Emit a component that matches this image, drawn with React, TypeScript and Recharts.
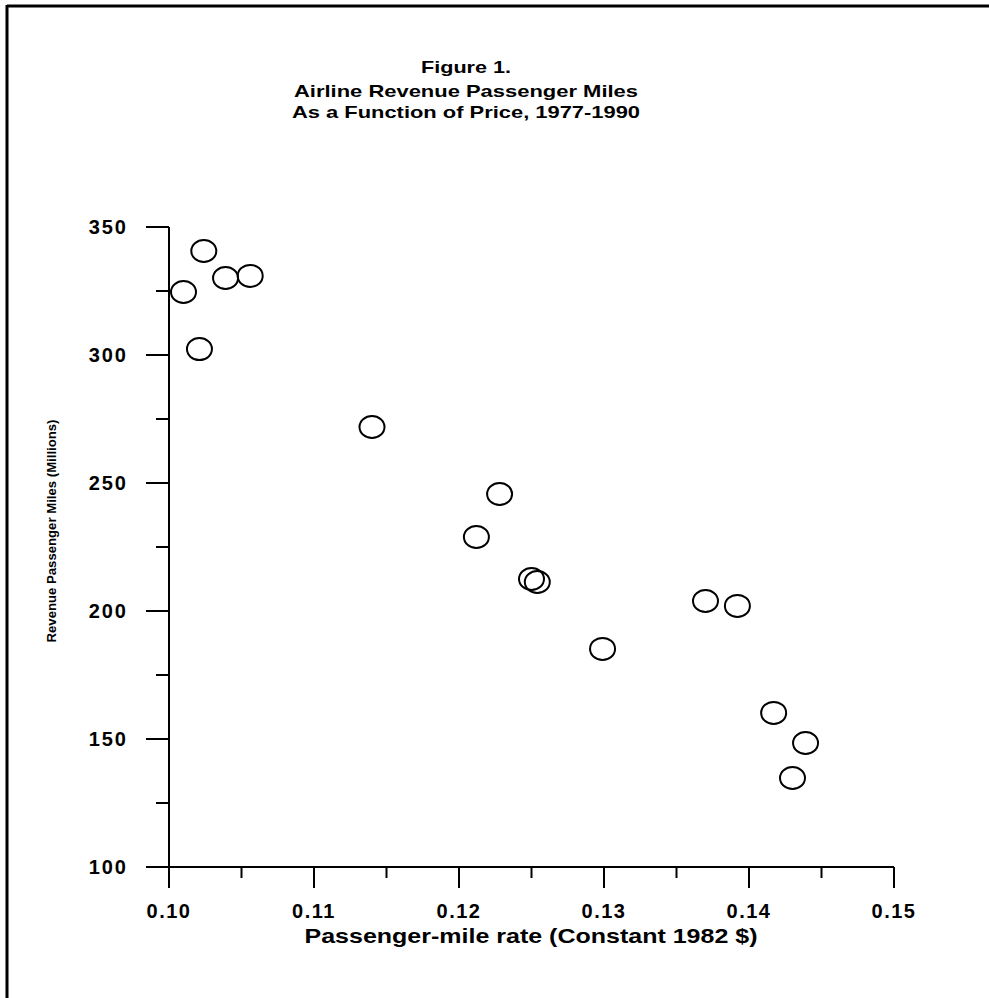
import React from 'react';
import { ScatterChart, Scatter, XAxis, YAxis } from 'recharts';

// price (constant 1982 $ per passenger-mile) and revenue passenger miles (millions)
const rates = [0.1024, 0.101, 0.1039, 0.1056, 0.1021, 0.114, 0.1228, 0.1212, 0.125, 0.1254, 0.1299, 0.137, 0.1392, 0.1417, 0.1439, 0.143];
const miles = [340.6, 324.6, 330.1, 330.9, 302.3, 271.9, 245.7, 228.9, 212.5, 211.3, 185.2, 203.9, 202.0, 160.2, 148.4, 134.8];

const xTicks = [0.1, 0.105, 0.11, 0.115, 0.12, 0.125, 0.13, 0.135, 0.14, 0.145, 0.15];
const xTickLabels = ['0.10', '0.11', '0.12', '0.13', '0.14', '0.15'];
const yTicks = [100, 125, 150, 175, 200, 225, 250, 275, 300, 325, 350];
const yTickLabels = ['100', '150', '200', '250', '300', '350'];

const titleLines = ['Figure 1.', 'Airline Revenue Passenger Miles', 'As a Function of Price, 1977-1990'];
const xTitle = 'Passenger-mile rate (Constant 1982 $)';
const yTitle = 'Revenue Passenger Miles (Millions)';

const data = rates.map((x, i) => ({ x, y: miles[i] }));

const FONT = '"Liberation Sans", Arial, Helvetica, sans-serif';

function XTick(props: any) {
  const { x, y, index } = props;
  const major = index % 2 === 0;
  return (
    <g>
      <line x1={x} x2={x} y1={y} y2={y + (major ? 21 : 11)} stroke="#000" strokeWidth={2} />
      {major && (
        <text x={x} y={y + 51} textAnchor="middle" fontFamily={FONT} fontWeight="bold" fontSize={20} letterSpacing={1.5} fill="#000">
          {xTickLabels[index / 2]}
        </text>
      )}
    </g>
  );
}

function YTick(props: any) {
  const { x, y, index } = props;
  const major = index % 2 === 0;
  return (
    <g>
      <line x1={x} x2={x - (major ? 23 : 13)} y1={y} y2={y} stroke="#000" strokeWidth={2} />
      {major && (
        <text x={x - 41} y={y} textAnchor="end" dominantBaseline="central" fontFamily={FONT} fontWeight="bold" fontSize={20} letterSpacing={2} fill="#000">
          {yTickLabels[index / 2]}
        </text>
      )}
    </g>
  );
}

const ring = (props: any) => (
  <ellipse cx={props.cx} cy={props.cy} rx={12.5} ry={11} fill="none" stroke="#000" strokeWidth={2} />
);

export default function App() {
  return (
    <div style={{ position: 'absolute', left: 0, top: 0, width: 989, height: 998, background: '#fff' }}>
      <svg width={989} height={998} style={{ position: 'absolute', left: 0, top: 0 }}>
        <line x1={7} x2={989} y1={6} y2={6} stroke="#000" strokeWidth={3} />
        <line x1={7} x2={7} y1={5} y2={998} stroke="#000" strokeWidth={3} />
        <text x={466} y={73} textAnchor="middle" fontFamily={FONT} fontWeight="bold" fontSize={17} textLength={90} lengthAdjust="spacingAndGlyphs">{titleLines[0]}</text>
        <text x={466} y={97} textAnchor="middle" fontFamily={FONT} fontWeight="bold" fontSize={17} textLength={344} lengthAdjust="spacingAndGlyphs">{titleLines[1]}</text>
        <text x={466} y={118} textAnchor="middle" fontFamily={FONT} fontWeight="bold" fontSize={17} textLength={348} lengthAdjust="spacingAndGlyphs">{titleLines[2]}</text>
        <text x={531} y={943} textAnchor="middle" fontFamily={FONT} fontWeight="bold" fontSize={21} textLength={453} lengthAdjust="spacingAndGlyphs">{xTitle}</text>
        <text x={51} y={531} textAnchor="middle" dominantBaseline="central" transform="rotate(-90, 51, 531)" fontFamily={FONT} fontWeight="bold" fontSize={13} textLength={223} lengthAdjust="spacingAndGlyphs">{yTitle}</text>
      </svg>
      <div style={{ position: 'absolute', left: 0, top: 0 }}>
        <ScatterChart width={989} height={998} margin={{ top: 227, right: 95, bottom: 71, left: 109 }}>
          <XAxis
            type="number"
            dataKey="x"
            domain={[0.1, 0.15]}
            ticks={xTicks}
            interval={0}
            tick={(p: any) => <XTick {...p} />}
            tickLine={false}
            tickSize={0}
            tickMargin={0}
            height={60}
            axisLine={{ stroke: '#000', strokeWidth: 2 }}
            allowDataOverflow
          />
          <YAxis
            type="number"
            dataKey="y"
            domain={[100, 350]}
            ticks={yTicks}
            interval={0}
            tick={(p: any) => <YTick {...p} />}
            tickLine={false}
            tickSize={0}
            tickMargin={0}
            width={60}
            axisLine={{ stroke: '#000', strokeWidth: 2 }}
            allowDataOverflow
          />
          <Scatter data={data} shape={ring} isAnimationActive={false} />
        </ScatterChart>
      </div>
    </div>
  );
}
